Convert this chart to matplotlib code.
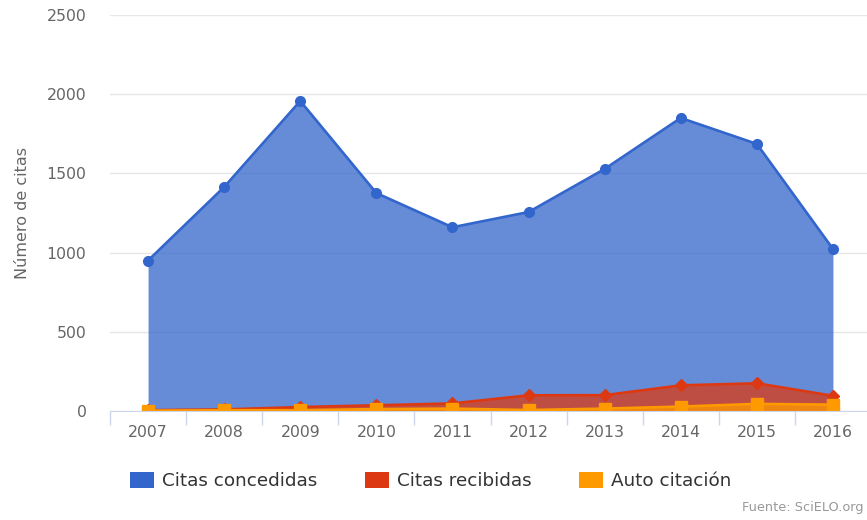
import matplotlib.pyplot as plt
from matplotlib.patches import Patch
import numpy as np

# Datos
years = ["2007", "2008", "2009", "2010", "2011", "2012", "2013", "2014", "2015", "2016"]
citas_concedidas = [950, 1414, 1957, 1376, 1160, 1256, 1528, 1850, 1686, 1023]
citas_recibidas = [5, 10, 25, 36, 48, 99, 100, 162, 175, 96]
auto_citacion = [2, 5, 5, 12, 15, 6, 15, 28, 45, 40]

series_names = ["Citas concedidas", "Citas recibidas", "Auto citación"]
colors = ["#3366cc", "#dc3912", "#ff9900"]
markers = ["o", "D", "s"]
msizes = [7, 6, 8.5]

fig = plt.figure(figsize=(8.67, 5.2), dpi=100)
ax = fig.add_axes([110 / 867, 1 - 411 / 520, 761 / 867, 396 / 520])

x = np.arange(len(years))
for vals, col, mk, ms in zip([citas_concedidas, citas_recibidas, auto_citacion], colors, markers, msizes):
    ax.fill_between(x, vals, 0, color=col, alpha=0.75, linewidth=0)
    ax.plot(x, vals, color=col, linewidth=1.9, marker=mk, markersize=ms)

ax.set_xlim(-0.5, len(years) - 0.5)
ax.set_ylim(0, 2500)
ax.set_yticks(range(0, 2501, 500))
ax.set_xticks(x)
ax.set_xticklabels(years)
ax.set_xticks(np.arange(-0.5, len(years)), minor=True)
ax.tick_params(axis="x", which="major", length=0, pad=10, labelsize=11.3, labelcolor="#666666")
ax.tick_params(axis="x", which="minor", length=10, color="#ccd6eb", width=1)
ax.tick_params(axis="y", length=0, pad=17, labelsize=11.3, labelcolor="#666666")

ax.grid(axis="y", color="#e6e6e6", linewidth=1)
ax.set_axisbelow(True)
for s in ["top", "right", "left"]:
    ax.spines[s].set_visible(False)
ax.spines["bottom"].set_color("#ccd6eb")
ax.set_ylabel("Número de citas", fontsize=11.5, color="#666666")
ax.yaxis.set_label_coords(-0.105, 0.5)

handles = [Patch(facecolor=c, edgecolor="none") for c in colors]
fig.legend(handles, series_names, loc="center left", bbox_to_anchor=(130 / 867, 1 - 481 / 520),
           ncol=3, frameon=False, fontsize=13.2, handlelength=1.31, handleheight=0.93,
           handletextpad=0.44, columnspacing=2.6, borderpad=0, borderaxespad=0,
           labelcolor="#333333")

fig.text(863 / 867, 1 - 508 / 520, "Fuente: SciELO.org", fontsize=9.3, color="#999999",
         va="center", ha="right")

fig.savefig("out.png", dpi=100)
